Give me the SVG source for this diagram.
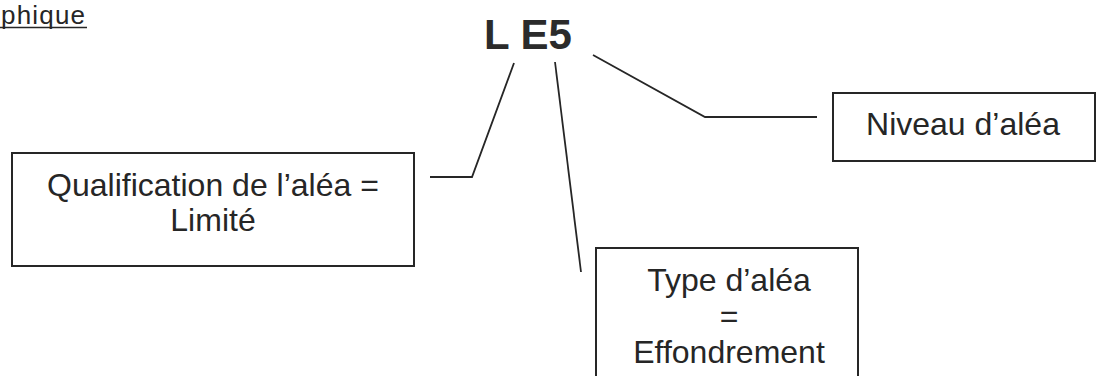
<svg xmlns="http://www.w3.org/2000/svg" width="1101" height="376" viewBox="0 0 1101 376">
<style>
.t{font-family:"Liberation Sans",Arial,sans-serif;font-size:32px;fill:#262626;text-anchor:middle}
.box{fill:#fff;stroke:#262626;stroke-width:2}
.c{fill:none;stroke:#262626;stroke-width:1.8}
</style>
<rect width="1101" height="376" fill="#fff"/>
<g id="title-fragment">
<text x="1" y="24" textLength="84" style="font-family:'Liberation Sans',Arial,sans-serif;font-size:26px;fill:#262626">phique</text>
<line x1="0" y1="27.5" x2="87" y2="27.5" stroke="#262626" stroke-width="1.6"/>
</g>
<g id="code">
<text x="528" y="49" style="font-family:'Liberation Sans',Arial,sans-serif;font-size:42px;font-weight:bold;fill:#2b2b2b;text-anchor:middle">L E5</text>
</g>
<g id="connectors">
<polyline class="c" points="514,63 472,177 430,177"/>
<line class="c" x1="555" y1="62" x2="581" y2="272"/>
<polyline class="c" points="593,55 705,117 817,117"/>
</g>
<g id="qualification">
<rect class="box" x="12" y="153" width="402" height="113"/>
<text class="t" x="213" y="196">Qualification de l’aléa =</text>
<text class="t" x="213" y="231">Limité</text>
</g>
<g id="niveau">
<rect class="box" x="833" y="93" width="262" height="68"/>
<text class="t" x="963" y="135">Niveau d’aléa</text>
</g>
<g id="type">
<rect class="box" x="596" y="248" width="262" height="140"/>
<text class="t" x="729" y="291">Type d’aléa</text>
<text class="t" x="729" y="327">=</text>
<text class="t" x="729" y="363">Effondrement</text>
</g>
</svg>
